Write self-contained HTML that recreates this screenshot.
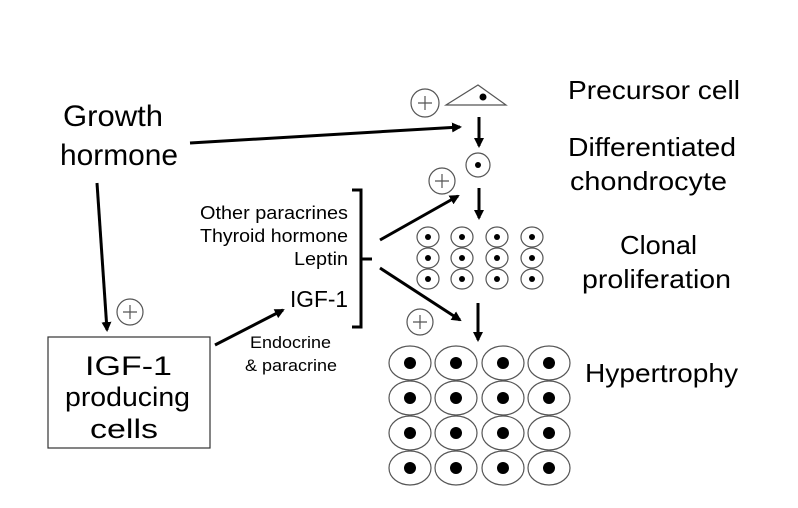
<!DOCTYPE html>
<html><head><style>body{margin:0;background:#fff}svg{display:block}text{font-family:"Liberation Sans",Arial,sans-serif;fill:#000}</style></head>
<body>
<svg width="798" height="508" viewBox="0 0 798 508" xmlns="http://www.w3.org/2000/svg">
<defs><marker id="a" markerWidth="10" markerHeight="10" refX="8" refY="5" orient="auto" markerUnits="userSpaceOnUse"><path d="M0,0 L10,5 L0,10 z" fill="#000"/></marker></defs>
<g stroke="#000" stroke-width="3" fill="none">
<line x1="190" y1="143" x2="460" y2="127" marker-end="url(#a)"/>
<line x1="97" y1="183" x2="107" y2="330" marker-end="url(#a)"/>
<line x1="215" y1="345" x2="283" y2="310" marker-end="url(#a)"/>
<line x1="380" y1="240" x2="458" y2="196" marker-end="url(#a)"/>
<line x1="380" y1="268" x2="460" y2="320" marker-end="url(#a)"/>
<line x1="479" y1="117" x2="479" y2="146" marker-end="url(#a)"/>
<line x1="479" y1="188" x2="479" y2="218" marker-end="url(#a)"/>
<line x1="478" y1="303" x2="478" y2="340" marker-end="url(#a)"/>
<path d="M352,190 H361 V327 H352 M361,259 H372"/>
</g>
<g stroke="#555" stroke-width="1.2" fill="none">
<rect x="48" y="337" width="162" height="111" stroke="#333"/>
<polygon points="446,105 478,85 506,105"/>
<circle cx="425" cy="103" r="14"/><path d="M418,103 H432 M425,96 V110"/>
<circle cx="478" cy="165" r="12"/>
<circle cx="442" cy="181" r="13"/><path d="M435,181 H449 M442,174 V188"/>
<circle cx="420" cy="322" r="13"/><path d="M413,322 H427 M420,315 V329"/>
<circle cx="130" cy="312" r="13"/><path d="M123,312 H137 M130,305 V319"/>
</g>
<circle cx="483" cy="97" r="3.5"/><circle cx="478" cy="165" r="3"/>
<script>
var s=document.querySelector('svg'),ns='http://www.w3.org/2000/svg';
function el(t,a){var e=document.createElementNS(ns,t);for(var k in a)e.setAttribute(k,a[k]);s.appendChild(e);}
[428,462,497,532].forEach(function(x){[237,258,279].forEach(function(y){el('ellipse',{cx:x,cy:y,rx:11,ry:10,fill:'none',stroke:'#555','stroke-width':1.2});el('circle',{cx:x,cy:y,r:3});});});
[410,456,503,549].forEach(function(x){[363,398,433,468].forEach(function(y){el('ellipse',{cx:x,cy:y,rx:21,ry:17,fill:'none',stroke:'#555','stroke-width':1.2});el('circle',{cx:x,cy:y,r:6});});});
</script>
<text x="63" y="126" font-size="30" textLength="100" lengthAdjust="spacingAndGlyphs">Growth</text>
<text x="60" y="165" font-size="30" textLength="118" lengthAdjust="spacingAndGlyphs">hormone</text>
<text x="85" y="375" font-size="27" textLength="87" lengthAdjust="spacingAndGlyphs">IGF-1</text>
<text x="65" y="406" font-size="27" textLength="125" lengthAdjust="spacingAndGlyphs">producing</text>
<text x="90" y="438" font-size="27" textLength="68" lengthAdjust="spacingAndGlyphs">cells</text>
<text x="200" y="219" font-size="18" textLength="148" lengthAdjust="spacingAndGlyphs">Other paracrines</text>
<text x="200" y="242" font-size="18" textLength="148" lengthAdjust="spacingAndGlyphs">Thyroid hormone</text>
<text x="294" y="265" font-size="18" textLength="54" lengthAdjust="spacingAndGlyphs">Leptin</text>
<text x="290" y="307" font-size="23" textLength="58" lengthAdjust="spacingAndGlyphs">IGF-1</text>
<text x="250" y="348" font-size="17" textLength="81" lengthAdjust="spacingAndGlyphs">Endocrine</text>
<text x="245" y="371" font-size="17" textLength="92" lengthAdjust="spacingAndGlyphs">&amp; paracrine</text>
<text x="568" y="99" font-size="26" textLength="172" lengthAdjust="spacingAndGlyphs">Precursor cell</text>
<text x="568" y="156" font-size="26" textLength="168" lengthAdjust="spacingAndGlyphs">Differentiated</text>
<text x="570" y="190" font-size="26" textLength="157" lengthAdjust="spacingAndGlyphs">chondrocyte</text>
<text x="620" y="254" font-size="26" textLength="77" lengthAdjust="spacingAndGlyphs">Clonal</text>
<text x="582" y="288" font-size="26" textLength="149" lengthAdjust="spacingAndGlyphs">proliferation</text>
<text x="585" y="382" font-size="26" textLength="153" lengthAdjust="spacingAndGlyphs">Hypertrophy</text>
</svg>
</body></html>
